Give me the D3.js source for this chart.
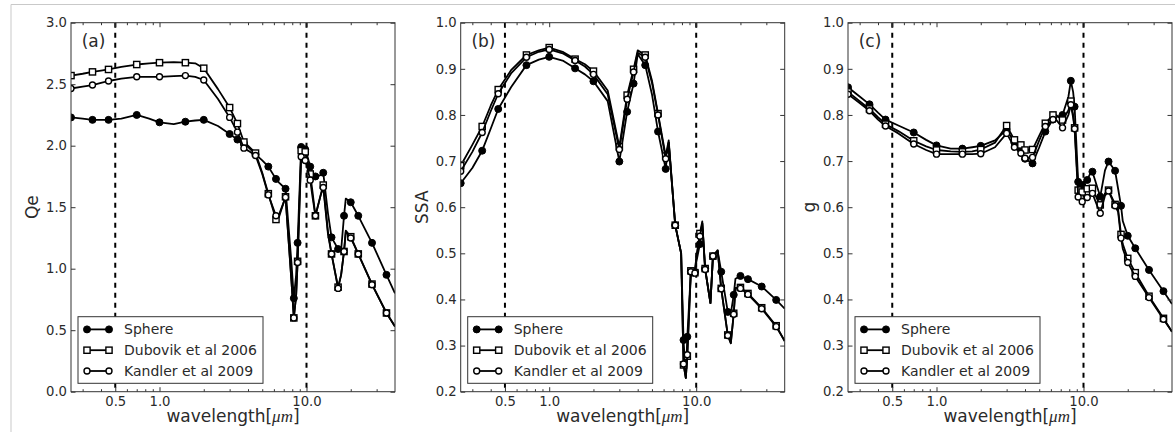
<!DOCTYPE html>
<html>
<head>
<meta charset="utf-8">
<script src="https://cdn.jsdelivr.net/npm/d3@7"></script>
<style>
  body { margin: 0; background: #fff; }
  svg { display: block; font-family: "DejaVu Sans", sans-serif; }
</style>
</head>
<body>
<svg id="chart" width="1175" height="432"></svg>
<script>
// wavelength grid (um) shared by all curves
const wavelengths = [0.25, 0.3, 0.35, 0.4, 0.45, 0.55, 0.7, 0.85, 1.0, 1.25, 1.5, 1.75, 2.0, 2.5,
  3.0, 3.39, 3.75, 4.0, 4.5, 5.0, 5.5, 6.2, 6.5, 7.2, 7.9, 8.2, 8.5, 8.7, 9.2, 9.5, 9.8, 10.0,
  10.6, 11.0, 11.5, 12.5, 13.0, 14.0, 14.8, 16.4, 17.2, 18.0, 18.5, 20, 22.5, 27.9, 35, 40];

// wavelengths that carry a marker
const markersA = [0.25, 0.35, 0.45, 0.7, 1.0, 1.5, 2.0, 3.0, 3.39, 3.75, 4.5, 5.5, 6.2, 7.2, 8.2, 8.7,
  9.2, 9.8, 10.6, 11.5, 13.0, 14.8, 16.4, 18.0, 20, 22.5, 27.9, 35];
const markersB = markersA;
const markersC = [0.25, 0.35, 0.45, 0.7, 1.0, 1.5, 2.0, 3.0, 3.39, 3.75, 4.0, 4.5, 5.5, 6.2, 7.2, 8.2, 8.7,
  9.2, 9.8, 10.6, 11.5, 13.0, 14.8, 16.4, 18.0, 20, 22.5, 27.9, 35];

const seriesNames = ["Sphere", "Dubovik et al 2006", "Kandler et al 2009"];

// (a) extinction efficiency
const qeSphere = [2.23, 2.22, 2.21, 2.21, 2.21, 2.22, 2.25, 2.22, 2.19, 2.175, 2.195, 2.205, 2.21, 2.16,
  2.095, 2.05, 2.02, 1.99, 1.93, 1.88, 1.83, 1.73, 1.70, 1.65, 1.05, 0.76, 0.95, 1.21, 1.99, 1.99, 1.97, 1.94,
  1.83, 1.78, 1.75, 1.76, 1.78, 1.45, 1.255, 1.16, 1.15, 1.43, 1.57, 1.54, 1.43, 1.21, 0.95, 0.80];
const qeDubovik = [2.57, 2.585, 2.60, 2.61, 2.62, 2.64, 2.66, 2.67, 2.675, 2.68, 2.675, 2.67, 2.63, 2.46,
  2.31, 2.18, 2.03, 2.0, 1.94, 1.78, 1.61, 1.40, 1.42, 1.585, 0.9, 0.60, 0.78, 1.06, 1.96, 1.96, 1.95, 1.90,
  1.77, 1.62, 1.43, 1.60, 1.68, 1.30, 1.12, 0.85, 0.95, 1.14, 1.31, 1.26, 1.12, 0.875, 0.64, 0.53];
const qeKandler = [2.465, 2.48, 2.493, 2.51, 2.526, 2.545, 2.56, 2.56, 2.56, 2.565, 2.57, 2.56, 2.534, 2.38,
  2.23, 2.11, 1.98, 1.96, 1.92, 1.77, 1.60, 1.43, 1.44, 1.58, 0.9, 0.60, 0.78, 1.05, 1.91, 1.90, 1.88, 1.85,
  1.72, 1.58, 1.43, 1.60, 1.66, 1.28, 1.12, 0.84, 0.95, 1.14, 1.30, 1.25, 1.12, 0.87, 0.64, 0.53];

// (b) single scattering albedo
const ssaSphere = [0.652, 0.685, 0.7225, 0.77, 0.813, 0.86, 0.908, 0.92, 0.926, 0.917, 0.901, 0.888, 0.873, 0.83,
  0.699, 0.807, 0.868, 0.932, 0.908, 0.845, 0.764, 0.683, 0.74, 0.561, 0.50, 0.312, 0.23, 0.319, 0.46, 0.46, 0.46, 0.48,
  0.52, 0.565, 0.467, 0.392, 0.493, 0.505, 0.46, 0.373, 0.37, 0.41, 0.445, 0.451, 0.444, 0.428, 0.399, 0.38];
const ssaDubovik = [0.69, 0.735, 0.775, 0.82, 0.855, 0.897, 0.93, 0.94, 0.946, 0.936, 0.921, 0.91, 0.895, 0.853,
  0.731, 0.843, 0.899, 0.94, 0.93, 0.875, 0.803, 0.711, 0.745, 0.561, 0.50, 0.258, 0.23, 0.277, 0.462, 0.462, 0.458, 0.49,
  0.543, 0.569, 0.467, 0.392, 0.494, 0.507, 0.424, 0.323, 0.305, 0.37, 0.425, 0.426, 0.413, 0.382, 0.343, 0.31];
const ssaKandler = [0.678, 0.72, 0.762, 0.808, 0.846, 0.89, 0.925, 0.937, 0.942, 0.933, 0.918, 0.905, 0.888, 0.845,
  0.725, 0.834, 0.893, 0.935, 0.925, 0.87, 0.80, 0.705, 0.74, 0.561, 0.50, 0.26, 0.23, 0.28, 0.46, 0.46, 0.457, 0.487,
  0.537, 0.565, 0.465, 0.392, 0.494, 0.505, 0.423, 0.322, 0.305, 0.368, 0.424, 0.424, 0.411, 0.38, 0.341, 0.31];

// (c) asymmetry parameter
const gSphere = [0.86, 0.84, 0.823, 0.805, 0.79, 0.777, 0.762, 0.746, 0.734, 0.727, 0.727, 0.73, 0.733, 0.745,
  0.768, 0.74, 0.725, 0.705, 0.695, 0.73, 0.764, 0.79, 0.795, 0.80, 0.84, 0.874, 0.85, 0.818, 0.655, 0.645, 0.648, 0.655,
  0.659, 0.67, 0.677, 0.64, 0.623, 0.68, 0.699, 0.679, 0.64, 0.603, 0.57, 0.538, 0.511, 0.464, 0.418, 0.39];
const gDubovik = [0.85, 0.83, 0.813, 0.795, 0.78, 0.765, 0.744, 0.732, 0.724, 0.721, 0.72, 0.721, 0.725, 0.74,
  0.777, 0.746, 0.735, 0.724, 0.725, 0.755, 0.782, 0.80, 0.80, 0.789, 0.81, 0.83, 0.80, 0.772, 0.637, 0.635, 0.633, 0.635,
  0.64, 0.64, 0.641, 0.615, 0.605, 0.63, 0.637, 0.606, 0.595, 0.541, 0.52, 0.489, 0.458, 0.407, 0.359, 0.33];
const gKandler = [0.845, 0.826, 0.809, 0.79, 0.776, 0.76, 0.737, 0.724, 0.715, 0.715, 0.715, 0.715, 0.716, 0.73,
  0.76, 0.73, 0.717, 0.706, 0.708, 0.745, 0.775, 0.79, 0.79, 0.772, 0.80, 0.822, 0.795, 0.77, 0.622, 0.618, 0.612, 0.618,
  0.621, 0.626, 0.63, 0.60, 0.587, 0.625, 0.635, 0.603, 0.59, 0.533, 0.51, 0.48, 0.45, 0.404, 0.357, 0.33];

const xTickValues = [0.5, 1, 10];
const xMinorTicks = [0.3, 0.4, 0.6, 0.7, 0.8, 0.9, 2, 3, 4, 5, 6, 7, 8, 9, 20, 30];
const dashedAt = [0.5, 10];
const yTicksA = [0, 0.5, 1.0, 1.5, 2.0, 2.5, 3.0];
const yTicksBC = [0.2, 0.3, 0.4, 0.5, 0.6, 0.7, 0.8, 0.9, 1.0];

const panels = [
  { tag: "(a)", ylabel: "Qe", left: 71, yDomain: [0, 3], yTicks: yTicksA,
    series: [qeSphere, qeDubovik, qeKandler], markers: markersA },
  { tag: "(b)", ylabel: "SSA", left: 460.7, yDomain: [0.2, 1.0], yTicks: yTicksBC,
    series: [ssaSphere, ssaDubovik, ssaKandler], markers: markersB },
  { tag: "(c)", ylabel: "g", left: 848, yDomain: [0.2, 1.0], yTicks: yTicksBC,
    series: [gSphere, gDubovik, gKandler], markers: markersC }
];

const svg = d3.select("#chart");
const W = 324, plotTop = 22.7, H = 391.7 - 22.7;
const ink = "#2a2a2a";

// faint frame of the original figure
svg.append("path").attr("d", "M11,432V4.5H1175").attr("fill", "none")
  .attr("stroke", "#c9c9c9").attr("stroke-width", 1);

function drawMarker(sel, kind) {
  if (kind === 0) {
    sel.append("circle").attr("r", 3.5).attr("fill", "#000").attr("stroke", "#000").attr("stroke-width", 1);
  } else if (kind === 1) {
    sel.append("rect").attr("x", -3.1).attr("y", -3.1).attr("width", 6.2).attr("height", 6.2)
      .attr("fill", "#fff").attr("stroke", "#000").attr("stroke-width", 1.4);
  } else {
    sel.append("circle").attr("r", 3.0).attr("fill", "#fff").attr("stroke", "#000").attr("stroke-width", 1.4);
  }
}

panels.forEach((p, pi) => {
  const g = svg.append("g").attr("transform", `translate(${p.left},${plotTop})`);
  const x = d3.scaleLog().domain([0.25, 40]).range([0, W]);
  const y = d3.scaleLinear().domain(p.yDomain).range([H, 0]);

  const clipId = "clip" + pi;
  g.append("clipPath").attr("id", clipId)
    .append("rect").attr("width", W).attr("height", H);
  const plot = g.append("g").attr("clip-path", `url(#${clipId})`);

  plot.selectAll(".dash").data(dashedAt).enter().append("line")
    .attr("x1", d => x(d)).attr("x2", d => x(d))
    .attr("y1", 0).attr("y2", H)
    .attr("stroke", "#000").attr("stroke-width", 2).attr("stroke-dasharray", "5,5");

  const line = d3.line().x(d => x(d[0])).y(d => y(d[1]));
  p.series.forEach((vals, si) => {
    const pts = wavelengths.map((w, i) => [w, vals[i]]);
    plot.append("path").datum(pts)
      .attr("d", line).attr("fill", "none")
      .attr("stroke", "#000").attr("stroke-width", 1.8).attr("stroke-linejoin", "round");
    const mk = pts.filter(d => p.markers.includes(d[0]));
    plot.selectAll(".m" + si).data(mk).enter().append("g")
      .attr("class", "m" + si)
      .attr("transform", d => `translate(${x(d[0])},${y(d[1])})`)
      .call(s => drawMarker(s, si));
  });

  // axes, ticks pointing inward
  const fmt = d3.format(".1f");
  const axes = g.append("g").attr("color", "#333");
  const bx = axes.append("g").attr("transform", `translate(0,${H})`)
    .call(d3.axisBottom(x).tickValues(xTickValues).tickFormat(fmt).tickSizeInner(-4.5).tickSizeOuter(0).tickPadding(5));
  axes.append("g").attr("transform", `translate(0,${H})`)
    .call(d3.axisBottom(x).tickValues(xMinorTicks).tickFormat("").tickSizeInner(-2.5).tickSizeOuter(0));
  axes.append("g")
    .call(d3.axisTop(x).tickValues(xTickValues).tickFormat("").tickSizeInner(-4.5).tickSizeOuter(0));
  axes.append("g")
    .call(d3.axisTop(x).tickValues(xMinorTicks).tickFormat("").tickSizeInner(-2.5).tickSizeOuter(0));
  axes.append("g")
    .call(d3.axisLeft(y).tickValues(p.yTicks).tickFormat(fmt).tickSizeInner(-4.5).tickSizeOuter(0).tickPadding(4));
  axes.append("g").attr("transform", `translate(${W},0)`)
    .call(d3.axisRight(y).tickValues(p.yTicks).tickFormat("").tickSizeInner(-4.5).tickSizeOuter(0));
  axes.selectAll(".domain").remove();
  axes.selectAll(":scope > g").attr("font-size", 13.2).attr("font-family", "DejaVu Sans");
  axes.selectAll("text").attr("fill", ink);
  bx.selectAll("text").attr("dy", "0.71em");

  g.append("rect").attr("width", W).attr("height", H)
    .attr("fill", "none").attr("stroke", "#333").attr("stroke-width", 1);

  // legend
  const lg = g.append("g").attr("transform", `translate(7,${H - 75})`);
  lg.append("rect").attr("width", 185).attr("height", 66.6)
    .attr("fill", "#fff").attr("stroke", "#333").attr("stroke-width", 1);
  seriesNames.forEach((name, si) => {
    const row = lg.append("g").attr("transform", `translate(0,${12.7 + si * 20.8})`);
    row.append("line").attr("x1", 9).attr("x2", 31)
      .attr("stroke", "#000").attr("stroke-width", 1.8);
    [9, 31].forEach(mx => row.append("g").attr("transform", `translate(${mx},0)`).call(s => drawMarker(s, si)));
    row.append("text").attr("x", 46).attr("dy", "0.36em")
      .attr("font-size", 14).attr("fill", ink).text(name);
  });

  // labels
  g.append("text").attr("x", 10.7).attr("y", 24)
    .attr("font-size", 17).attr("fill", ink).text(p.tag);
  g.append("text")
    .attr("transform", `translate(-33,${H / 2}) rotate(-90)`)
    .attr("text-anchor", "middle").attr("font-size", 17).attr("fill", ink).text(p.ylabel);
  const xl = g.append("text").attr("x", W / 2).attr("y", H + 30.3)
    .attr("text-anchor", "middle").attr("font-size", 17).attr("fill", ink);
  xl.append("tspan").text("wavelength[");
  xl.append("tspan").attr("font-family", "Liberation Serif").attr("font-style", "italic").text("\u03bcm");
  xl.append("tspan").text("]");
});
</script>
</body>
</html>
